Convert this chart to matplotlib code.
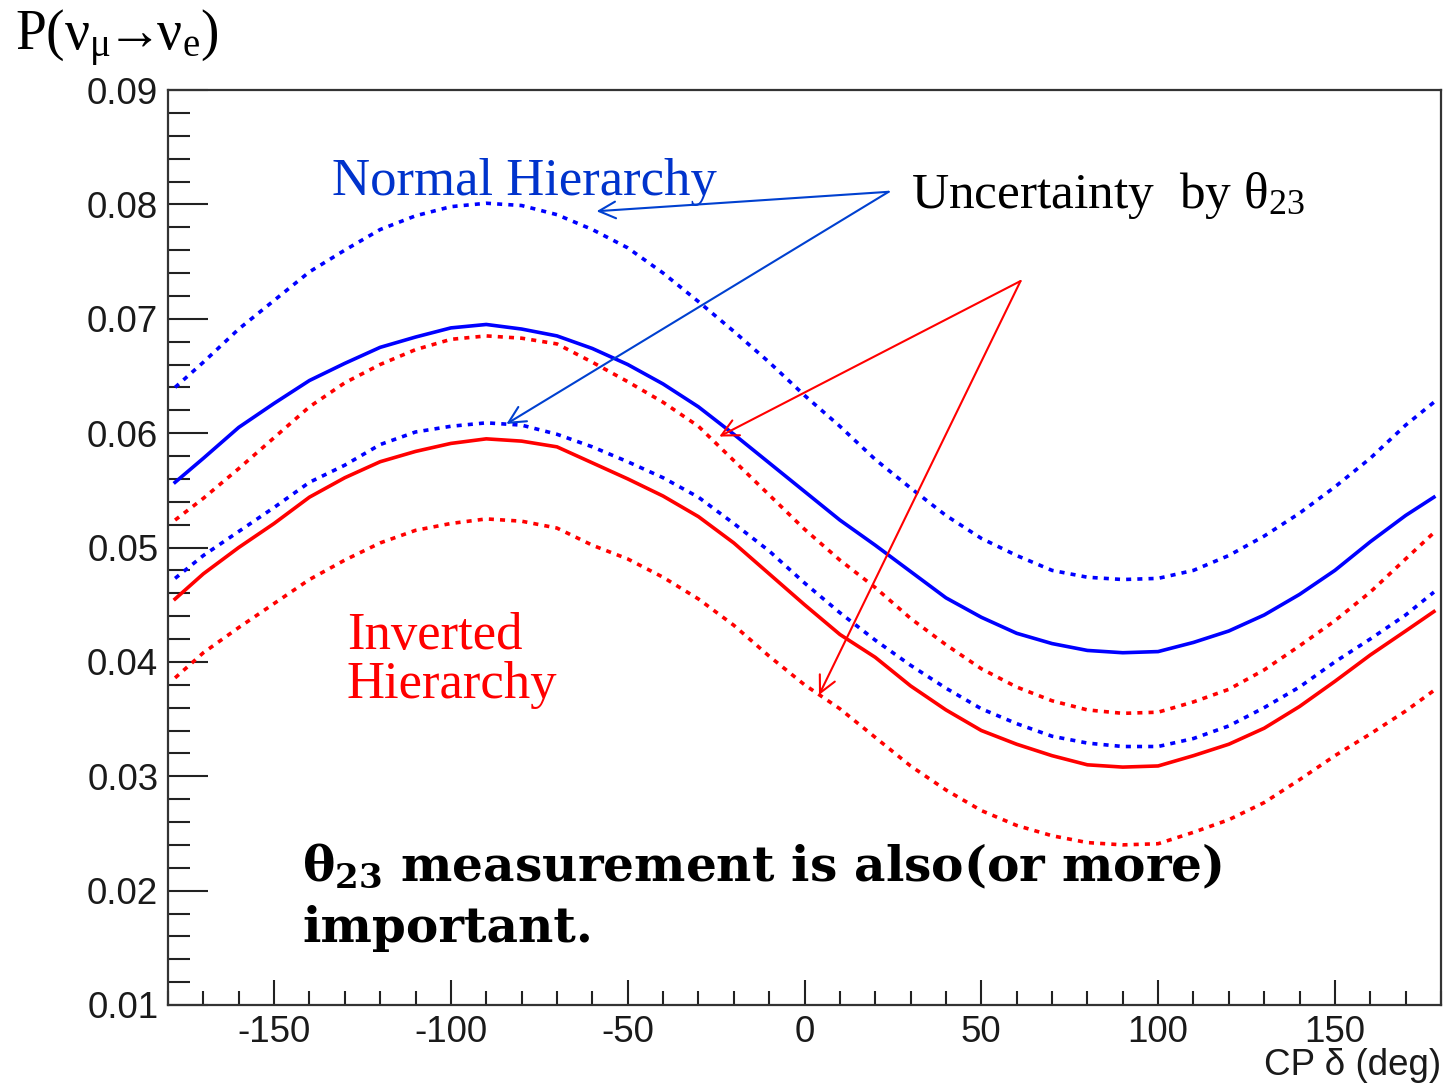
import matplotlib
matplotlib.use("Agg")
import matplotlib.pyplot as plt
from matplotlib.ticker import MultipleLocator, FormatStrFormatter

#Fuentes: sans para los ejes, serif para las anotaciones
plt.rcParams['font.family'] = 'Liberation Sans'
plt.rcParams['axes.unicode_minus'] = False
plt.rcParams['mathtext.fontset'] = 'custom'
plt.rcParams['mathtext.rm'] = 'Liberation Serif'
plt.rcParams['mathtext.it'] = 'Liberation Serif:italic'
plt.rcParams['mathtext.bf'] = 'DejaVu Serif:bold'
plt.rcParams['mathtext.default'] = 'rm'

############################
#Datos: P(nu_mu -> nu_e) en funcion de delta_CP

delta = [-178, -170, -160, -150, -140, -130, -120, -110, -100, -90, -80, -70, -60,
         -50, -40, -30, -20, -10, 0, 10, 20, 30, 40, 50, 60, 70, 80, 90, 100, 110,
         120, 130, 140, 150, 160, 170, 178]

#Jerarquia normal (central y banda por theta23)
nh_sup = [0.0640, 0.0662, 0.0691, 0.0716, 0.0741, 0.0760, 0.0778, 0.0790, 0.0798, 0.0801,
          0.0799, 0.0791, 0.0778, 0.0762, 0.0740, 0.0715, 0.0689, 0.0662, 0.0633, 0.0606,
          0.0577, 0.0552, 0.0528, 0.0508, 0.0493, 0.0480, 0.0474, 0.0472, 0.0473, 0.0480,
          0.0493, 0.0510, 0.0530, 0.0553, 0.0578, 0.0607, 0.0627]
nh = [0.0557, 0.0578, 0.0605, 0.0626, 0.0646, 0.0661, 0.0675, 0.0684, 0.0692, 0.0695,
      0.0691, 0.0685, 0.0674, 0.0660, 0.0643, 0.0623, 0.0599, 0.0574, 0.0549, 0.0524,
      0.0502, 0.0479, 0.0456, 0.0439, 0.0425, 0.0416, 0.0410, 0.0408, 0.0409, 0.0417,
      0.0427, 0.0441, 0.0459, 0.0480, 0.0505, 0.0528, 0.0544]
nh_inf = [0.0473, 0.0493, 0.0514, 0.0535, 0.0557, 0.0572, 0.0590, 0.0601, 0.0606, 0.0609,
          0.0607, 0.0599, 0.0588, 0.0575, 0.0561, 0.0544, 0.0521, 0.0497, 0.0469, 0.0443,
          0.0419, 0.0397, 0.0377, 0.0359, 0.0346, 0.0335, 0.0329, 0.0326, 0.0326, 0.0333,
          0.0344, 0.0360, 0.0378, 0.0400, 0.0420, 0.0441, 0.0461]

#Jerarquia invertida
ih_sup = [0.0524, 0.0543, 0.0569, 0.0596, 0.0623, 0.0644, 0.0660, 0.0673, 0.0682, 0.0685,
          0.0683, 0.0678, 0.0662, 0.0645, 0.0627, 0.0606, 0.0576, 0.0546, 0.0516, 0.0489,
          0.0465, 0.0438, 0.0415, 0.0394, 0.0378, 0.0366, 0.0358, 0.0355, 0.0356, 0.0365,
          0.0376, 0.0393, 0.0414, 0.0436, 0.0461, 0.0490, 0.0513]
ih = [0.0455, 0.0477, 0.0500, 0.0521, 0.0544, 0.0561, 0.0575, 0.0584, 0.0591, 0.0595,
      0.0593, 0.0588, 0.0574, 0.0560, 0.0545, 0.0527, 0.0504, 0.0477, 0.0450, 0.0424,
      0.0404, 0.0379, 0.0358, 0.0340, 0.0328, 0.0318, 0.0310, 0.0308, 0.0309, 0.0318,
      0.0328, 0.0342, 0.0361, 0.0383, 0.0406, 0.0427, 0.0444]
ih_inf = [0.0386, 0.0408, 0.0430, 0.0451, 0.0472, 0.0489, 0.0504, 0.0515, 0.0521, 0.0525,
          0.0523, 0.0517, 0.0502, 0.0490, 0.0474, 0.0455, 0.0432, 0.0405, 0.0380, 0.0359,
          0.0334, 0.0309, 0.0288, 0.0270, 0.0257, 0.0248, 0.0242, 0.0240, 0.0241, 0.0251,
          0.0262, 0.0277, 0.0297, 0.0318, 0.0337, 0.0357, 0.0375]

############################
#Figura y ejes

W, H = 1445, 1088
fig = plt.figure(figsize=(W / 100, H / 100), dpi=100)
ax = fig.add_axes([168 / W, 1 - 1005 / H, (1441 - 168) / W, (1005 - 90) / H])

punteado = (0, (1.4, 1.7))
ax.plot(delta, nh_sup, color='#0000ff', lw=2.6, linestyle=punteado)
ax.plot(delta, nh, color='#0000ff', lw=2.6)
ax.plot(delta, ih_sup, color='#ff0000', lw=2.6, linestyle=punteado)
ax.plot(delta, nh_inf, color='#0000ff', lw=2.6, linestyle=punteado)
ax.plot(delta, ih, color='#ff0000', lw=2.6)
ax.plot(delta, ih_inf, color='#ff0000', lw=2.6, linestyle=punteado)

ax.set_xlim(-180, 180)
ax.set_ylim(0.01, 0.09)

#Ticks hacia adentro, estilo ROOT
ax.xaxis.set_major_locator(MultipleLocator(50))
ax.xaxis.set_minor_locator(MultipleLocator(10))
ax.yaxis.set_major_locator(MultipleLocator(0.01))
ax.yaxis.set_minor_locator(MultipleLocator(0.002))
ax.yaxis.set_major_formatter(FormatStrFormatter('%.2f'))
ax.tick_params(axis='both', which='both', direction='in', width=1.5, colors='#222222',
               labelcolor='#1a1a1a', labelsize=26.5, pad=7)
ax.tick_params(axis='y', which='major', length=29)
ax.tick_params(axis='y', which='minor', length=16)
ax.tick_params(axis='x', which='major', length=18)
ax.tick_params(axis='x', which='minor', length=10)
for s in ax.spines.values():
    s.set_linewidth(1.6)
    s.set_color('#333333')

ax.set_xlabel('CP δ (deg)', fontsize=26.5, loc='right', color='#1a1a1a')
ax.xaxis.set_label_coords(1.0, -0.047)

#Titulo del eje y arriba a la izquierda (flecha pegada a las nu)
fig.text(15 / W, 1 - 50 / H, r'P($\nu_{\mu}\!\!\rightarrow\!\!\nu_{e}$)', fontsize=40,
         family=['Liberation Serif', 'DejaVu Serif'], va='baseline', ha='left')

############################
#Anotaciones

ax.text(-133.6, 0.0808, 'Normal Hierarchy', color='#0033cc', fontsize=38,
        family='Liberation Serif', va='baseline')
ax.text(30.0, 0.0797, r'Uncertainty  by $\theta_{23}$', color='black', fontsize=37,
        family='Liberation Serif', va='baseline')
ax.text(-129.4, 0.0444, 'Inverted\nHierarchy', color='#ff0000', fontsize=38,
        family='Liberation Serif', va='top', linespacing=1.05)

ax.text(-142.1, 0.0209, r'$\mathbf{\theta_{23}}$ measurement is also(or more)',
        fontsize=35, family='DejaVu Serif', weight='bold', va='baseline')
ax.text(-142.1, 0.0155, 'important.', fontsize=35, family='DejaVu Serif',
        weight='bold', va='baseline')

#Flechas de incertidumbre
flecha_azul = dict(arrowstyle='->', color='#0040d0', lw=1.5, mutation_scale=30,
                   shrinkA=0, shrinkB=0)
flecha_roja = dict(arrowstyle='->', color='#ff0000', lw=1.5, mutation_scale=30,
                   shrinkA=0, shrinkB=0)
ax.annotate('', xy=(-58.8, 0.0794), xytext=(23.8, 0.0811), arrowprops=flecha_azul)
ax.annotate('', xy=(-84.3, 0.0608), xytext=(23.8, 0.0811), arrowprops=flecha_azul)
ax.annotate('', xy=(-24.1, 0.0597), xytext=(61.1, 0.0733), arrowprops=flecha_roja)
ax.annotate('', xy=(4.1, 0.0371), xytext=(61.1, 0.0733), arrowprops=flecha_roja)

fig.savefig('out.png', dpi=100)
